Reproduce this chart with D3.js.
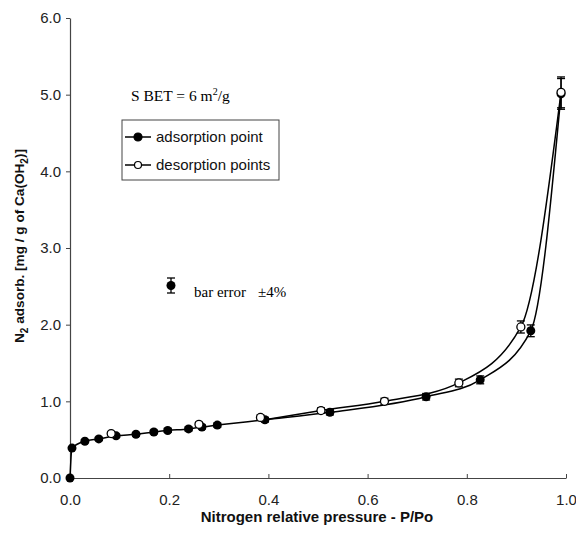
<!DOCTYPE html>
<html>
<head>
<meta charset="utf-8">
<script src="https://cdn.jsdelivr.net/npm/d3@7"></script>
<style>
  html, body { margin: 0; padding: 0; background: #fff; }
  svg { display: block; }
  .tick text { font-family: "Liberation Sans", Arial, sans-serif; font-size: 15px; fill: #222; }
</style>
</head>
<body>
<svg id="chart" width="576" height="534"></svg>
<script>
// N2 adsorption / desorption isotherm, relative pressure P/Po vs adsorbed amount
const adsP = [0, 0.004, 0.030, 0.058, 0.093, 0.133, 0.169, 0.197, 0.239, 0.266, 0.297, 0.393, 0.524, 0.718, 0.827, 0.929, 0.990];
const adsV = [0, 0.39, 0.48, 0.51, 0.55, 0.57, 0.60, 0.62, 0.64, 0.665, 0.69, 0.76, 0.857, 1.06, 1.28, 1.92, 5.01];
const desP = [0.083, 0.260, 0.384, 0.506, 0.634, 0.784, 0.909, 0.990];
const desV = [0.58, 0.70, 0.79, 0.88, 1.00, 1.24, 1.97, 5.03];
const xTicks = [0, 0.2, 0.4, 0.6, 0.8, 1.0];
const yTicks = [0, 1, 2, 3, 4, 5, 6];
const errorFrac = 0.04;      // relative error of each measurement
const branchJoinP = 0.393;   // desorption branch closes onto the adsorption branch here

const svg = d3.select("#chart");
const x = d3.scaleLinear().domain([0, 1]).range([70, 566]);
const y = d3.scaleLinear().domain([0, 6]).range([478, 18]);

const ads = adsP.map((p, i) => ({ p, v: adsV[i] }));
const des = desP.map((p, i) => ({ p, v: desV[i] }));

// axes
const xAxis = svg.append("g").attr("transform", `translate(0,${y(0)})`)
  .call(d3.axisBottom(x).tickValues(xTicks).tickFormat(d3.format(".1f")).tickSizeInner(-4).tickSizeOuter(0).tickPadding(16));
const yAxis = svg.append("g").attr("transform", `translate(${x(0)},0)`)
  .call(d3.axisLeft(y).tickValues(yTicks).tickFormat(d3.format(".1f")).tickSizeInner(4).tickSizeOuter(0).tickPadding(5));
[xAxis, yAxis].forEach(g => {
  g.select(".domain").attr("stroke", "#444").attr("stroke-width", 1.2);
  g.selectAll(".tick line").attr("stroke", "#444");
});

// axis titles
svg.append("text")
  .attr("x", 317).attr("y", 522)
  .attr("text-anchor", "middle")
  .style("font-family", "'Liberation Sans', Arial, sans-serif")
  .style("font-weight", "bold").style("font-size", "15px").attr("fill", "#111")
  .text("Nitrogen relative pressure - P/Po");

const yl = svg.append("text")
  .attr("transform", "translate(24,246) rotate(-90)")
  .attr("text-anchor", "middle")
  .style("font-family", "'Liberation Sans', Arial, sans-serif")
  .style("font-weight", "bold").style("font-size", "13.6px").attr("fill", "#111");
yl.append("tspan").text("N");
yl.append("tspan").attr("dy", 4).style("font-size", "10px").text("2");
yl.append("tspan").attr("dy", -4).text("  adsorb. [mg / g of Ca(OH");
yl.append("tspan").attr("dy", 4).style("font-size", "10px").text("2");
yl.append("tspan").attr("dy", -4).text(")]");

// isotherm curves
const line = d3.line().x(d => x(d.p)).y(d => y(d.v)).curve(d3.curveMonotoneX);
const joint = ads.find(d => d.p === branchJoinP);
const desBranch = [joint].concat(des.filter(d => d.p > branchJoinP + 0.05));

svg.append("path").datum(ads).attr("d", line)
  .attr("fill", "none").attr("stroke", "#000").attr("stroke-width", 1.5);
svg.append("path").datum(desBranch).attr("d", line)
  .attr("fill", "none").attr("stroke", "#000").attr("stroke-width", 1.5);

// error bars
const capW = 4;
function errorBars(data) {
  const g = svg.append("g").attr("stroke", "#000").attr("stroke-width", 1.3);
  data.filter(d => d.v > 0).forEach(d => {
    const cx = x(d.p), lo = y(d.v * (1 - errorFrac)), hi = y(d.v * (1 + errorFrac));
    g.append("line").attr("x1", cx).attr("x2", cx).attr("y1", lo).attr("y2", hi);
    g.append("line").attr("x1", cx - capW).attr("x2", cx + capW).attr("y1", lo).attr("y2", lo);
    g.append("line").attr("x1", cx - capW).attr("x2", cx + capW).attr("y1", hi).attr("y2", hi);
  });
}
errorBars(ads);
errorBars(des);

// markers
svg.append("g").selectAll("circle").data(ads).join("circle")
  .attr("cx", d => x(d.p)).attr("cy", d => y(d.v)).attr("r", 4.5).attr("fill", "#000");
svg.append("g").selectAll("circle").data(des).join("circle")
  .attr("cx", d => x(d.p)).attr("cy", d => y(d.v)).attr("r", 4)
  .attr("fill", "#fff").attr("stroke", "#000").attr("stroke-width", 1.3);

// surface area annotation
const serif = "'Liberation Serif', 'Times New Roman', serif";
const bet = svg.append("text").attr("x", 131).attr("y", 101)
  .style("font-family", serif).style("font-size", "15.5px").attr("fill", "#000");
bet.append("tspan").text("S BET = 6 m");
bet.append("tspan").attr("dy", -6).style("font-size", "10px").text("2");
bet.append("tspan").attr("dy", 6).text("/g");

// legend
const lg = svg.append("g");
lg.append("rect").attr("x", 122).attr("y", 120).attr("width", 157).attr("height", 60)
  .attr("fill", "#fff").attr("stroke", "#444").attr("stroke-width", 1);
const legendItems = [
  { label: "adsorption point", filled: true, yy: 137 },
  { label: "desorption points", filled: false, yy: 165 }
];
legendItems.forEach(it => {
  lg.append("line").attr("x1", 125).attr("x2", 151).attr("y1", it.yy).attr("y2", it.yy)
    .attr("stroke", "#000").attr("stroke-width", 1.5);
  lg.append("circle").attr("cx", 138).attr("cy", it.yy).attr("r", it.filled ? 4 : 3.5)
    .attr("fill", it.filled ? "#000" : "#fff").attr("stroke", "#000").attr("stroke-width", 1.2);
  lg.append("text").attr("x", 156).attr("y", it.yy + 5)
    .style("font-family", "'Liberation Sans', Arial, sans-serif").style("font-size", "15px").attr("fill", "#111")
    .text(it.label);
});

// error bar key
const ek = svg.append("g").attr("stroke", "#000").attr("stroke-width", 1.3);
ek.append("line").attr("x1", 171).attr("x2", 171).attr("y1", 278).attr("y2", 293);
ek.append("line").attr("x1", 167).attr("x2", 175).attr("y1", 278).attr("y2", 278);
ek.append("line").attr("x1", 167).attr("x2", 175).attr("y1", 293).attr("y2", 293);
svg.append("circle").attr("cx", 171).attr("cy", 285.5).attr("r", 4.5).attr("fill", "#000");
svg.append("text").attr("x", 194).attr("y", 297)
  .style("font-family", serif).style("font-size", "15px").attr("fill", "#000")
  .text("bar error");
svg.append("text").attr("x", 258).attr("y", 297)
  .style("font-family", serif).style("font-size", "15px").attr("fill", "#000")
  .text("±4%");
</script>
</body>
</html>
